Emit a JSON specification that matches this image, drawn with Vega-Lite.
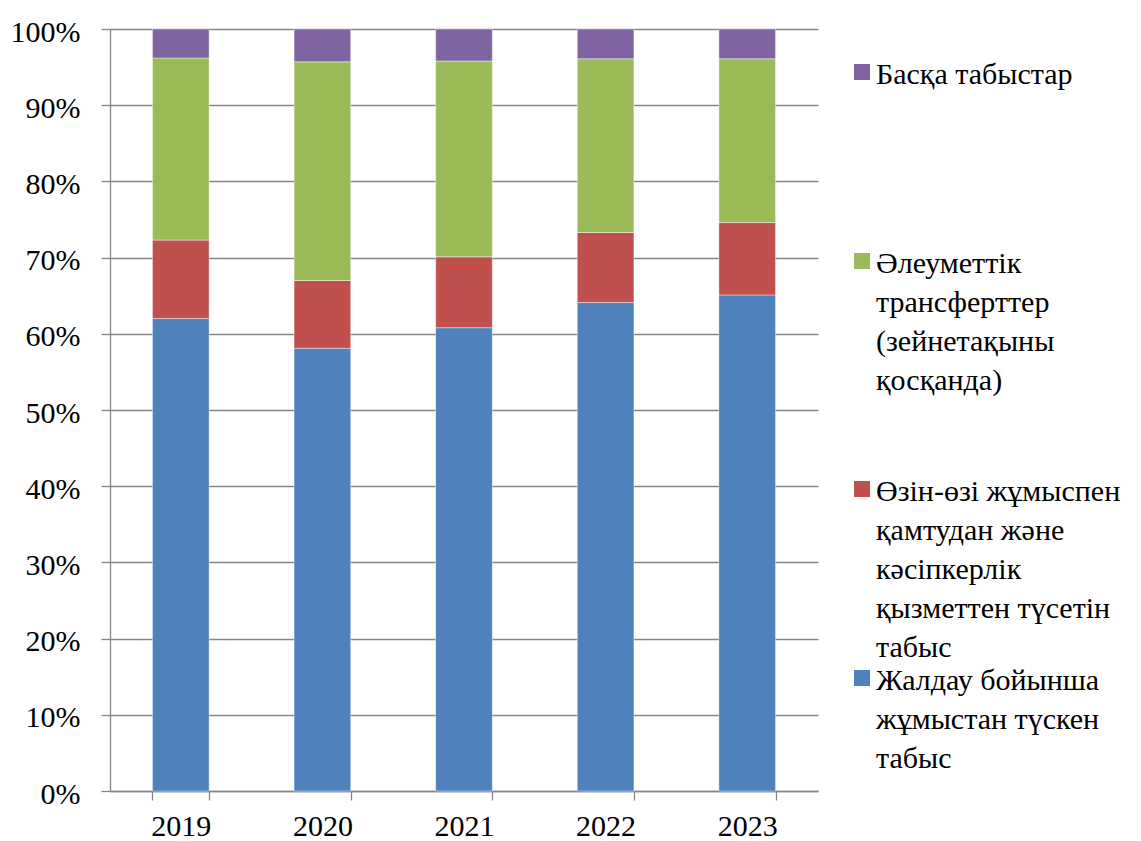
{
  "$schema": "https://vega.github.io/schema/vega-lite/v6.json",
  "width": 708,
  "height": 762,
  "autosize": "none",
  "padding": {"left": 110, "top": 29, "right": 323, "bottom": 50},
  "background": "white",
  "config": {
    "font": "Liberation Serif",
    "view": {"stroke": null},
    "style": {"guide-label": {"font": "Liberation Serif", "lineHeight": 39, "dy": 12}},
    "legend": {"labelFont": "Liberation Serif", "labelFontSize": 30},
    "axis": {"labelFont": "Liberation Serif", "labelFontSize": 30, "labelColor": "black", "domainColor": "#868686", "tickColor": "#868686", "gridColor": "#868686", "domainWidth": 1.3, "tickWidth": 1.3, "gridWidth": 1.3}
  },
  "data": {
    "values": [
      {"year": "2019", "cat": "Жалдау бойынша\nжұмыстан түскен\nтабыс", "ord": 1, "v": 62.0},
      {"year": "2019", "cat": "Өзін-өзі жұмыспен\nқамтудан және\nкәсіпкерлік\nқызметтен түсетін\nтабыс", "ord": 2, "v": 10.3},
      {"year": "2019", "cat": "Әлеуметтік\nтрансферттер\n(зейнетақыны\nқосқанда)", "ord": 3, "v": 23.9},
      {"year": "2019", "cat": "Басқа табыстар", "ord": 4, "v": 3.8},
      {"year": "2020", "cat": "Жалдау бойынша\nжұмыстан түскен\nтабыс", "ord": 1, "v": 58.1},
      {"year": "2020", "cat": "Өзін-өзі жұмыспен\nқамтудан және\nкәсіпкерлік\nқызметтен түсетін\nтабыс", "ord": 2, "v": 8.9},
      {"year": "2020", "cat": "Әлеуметтік\nтрансферттер\n(зейнетақыны\nқосқанда)", "ord": 3, "v": 28.7},
      {"year": "2020", "cat": "Басқа табыстар", "ord": 4, "v": 4.3},
      {"year": "2021", "cat": "Жалдау бойынша\nжұмыстан түскен\nтабыс", "ord": 1, "v": 60.8},
      {"year": "2021", "cat": "Өзін-өзі жұмыспен\nқамтудан және\nкәсіпкерлік\nқызметтен түсетін\nтабыс", "ord": 2, "v": 9.3},
      {"year": "2021", "cat": "Әлеуметтік\nтрансферттер\n(зейнетақыны\nқосқанда)", "ord": 3, "v": 25.7},
      {"year": "2021", "cat": "Басқа табыстар", "ord": 4, "v": 4.2},
      {"year": "2022", "cat": "Жалдау бойынша\nжұмыстан түскен\nтабыс", "ord": 1, "v": 64.1},
      {"year": "2022", "cat": "Өзін-өзі жұмыспен\nқамтудан және\nкәсіпкерлік\nқызметтен түсетін\nтабыс", "ord": 2, "v": 9.2},
      {"year": "2022", "cat": "Әлеуметтік\nтрансферттер\n(зейнетақыны\nқосқанда)", "ord": 3, "v": 22.8},
      {"year": "2022", "cat": "Басқа табыстар", "ord": 4, "v": 3.9},
      {"year": "2023", "cat": "Жалдау бойынша\nжұмыстан түскен\nтабыс", "ord": 1, "v": 65.1},
      {"year": "2023", "cat": "Өзін-өзі жұмыспен\nқамтудан және\nкәсіпкерлік\nқызметтен түсетін\nтабыс", "ord": 2, "v": 9.5},
      {"year": "2023", "cat": "Әлеуметтік\nтрансферттер\n(зейнетақыны\nқосқанда)", "ord": 3, "v": 21.5},
      {"year": "2023", "cat": "Басқа табыстар", "ord": 4, "v": 3.9}
    ]
  },
  "mark": {"type": "bar", "stroke": "white", "strokeWidth": 0.6, "strokeOpacity": 0.7},
  "encoding": {
    "x": {
      "field": "year", "type": "nominal", "title": null,
      "scale": {"paddingInner": 0.6, "paddingOuter": 0.3},
      "axis": {"labelAngle": 0, "tickBand": "extent", "tickSize": 9, "labelPadding": 23, "labelBaseline": "alphabetic", "grid": false}
    },
    "y": {
      "field": "v", "type": "quantitative", "stack": "normalize", "title": null,
      "scale": {"domain": [0, 1], "nice": false},
      "axis": {"format": ".0%", "values": [0, 0.1, 0.2, 0.3, 0.4, 0.5, 0.6, 0.7, 0.8, 0.9, 1], "tickSize": 9, "labelPadding": 21, "labelBaseline": "alphabetic", "grid": true}
    },
    "color": {
      "field": "cat", "type": "nominal", "title": null,
      "scale": {
        "domain": ["Басқа табыстар", "Әлеуметтік\nтрансферттер\n(зейнетақыны\nқосқанда)", "Өзін-өзі жұмыспен\nқамтудан және\nкәсіпкерлік\nқызметтен түсетін\nтабыс", "Жалдау бойынша\nжұмыстан түскен\nтабыс"],
        "range": ["#8064A2", "#9BBB59", "#C0504D", "#4F81BD"]
      },
      "legend": {
        "orient": "none", "legendX": 737, "legendY": 28,
        "labelExpr": "split(datum.label + (indexof(datum.label, 'Басқа') == 0 ? '\\n\\n\\n\\n' : indexof(datum.label, 'Әлеу') == 0 ? '\\n\\n' : ''), '\\n')",
        "symbolType": "square", "symbolSize": 256, "symbolStrokeWidth": 0,
        "labelFont": "Liberation Serif", "labelFontSize": 30, "labelColor": "black",
        "labelLimit": 400, "labelOffset": -1, "rowPadding": 0, "padding": 0,
        "labelBaseline": "alphabetic"
      }
    },
    "order": {"field": "ord", "type": "quantitative"}
  }
}
